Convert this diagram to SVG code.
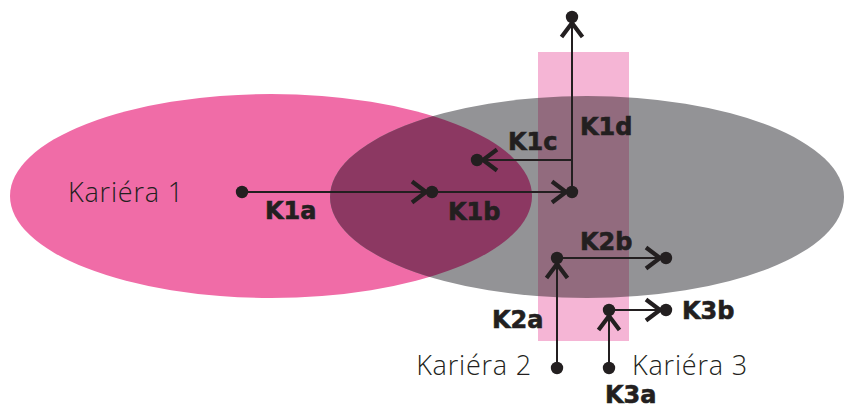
<svg xmlns="http://www.w3.org/2000/svg" width="845" height="408" viewBox="0 0 845 408">
<style>
.lbl{font-family:"DejaVu Sans","Liberation Sans",sans-serif;font-weight:bold;font-size:24px;fill:#231F20;stroke:#231F20;stroke-width:0.6}
.car{font-family:"Open Sans","Liberation Sans",sans-serif;font-weight:300;font-size:27px;letter-spacing:0.8px;fill:#231F20}
.con{fill:none;stroke:#231F20;stroke-width:2;marker-end:url(#chev)}
.dot{fill:#231F20}
</style>
<defs>
<marker id="chev" markerUnits="userSpaceOnUse" markerWidth="30" markerHeight="30" refX="26" refY="15" orient="auto">
<path d="M6,4.5 L20,15 L6,25.5" fill="none" stroke="#231F20" stroke-width="4.2" stroke-linejoin="miter"/>
</marker>
<clipPath id="clipGray"><ellipse cx="587" cy="197" rx="257" ry="101"/></clipPath>
</defs>
<g id="areas">
<ellipse id="career1-area" cx="271" cy="196" rx="261" ry="102" fill="#F06CA7"/>
<ellipse id="career-other-area" cx="587" cy="197" rx="257" ry="101" fill="#939396"/>
<ellipse cx="271" cy="196" rx="261" ry="102" fill="#8C3862" clip-path="url(#clipGray)"/>
<rect id="band" x="538" y="52" width="91" height="289" fill="#F5B5D5"/>
<rect x="538" y="52" width="91" height="289" fill="#926B7E" clip-path="url(#clipGray)"/>
</g>
<g id="connectors">
<path id="K1a-edge" class="con" d="M242,192 H432"/>
<path id="K1b-edge" class="con" d="M432,192 H572"/>
<path id="K1d-edge" class="con" d="M572,192 V17"/>
<path id="K1c-edge" class="con" d="M572,160 H477"/>
<path id="K2a-edge" class="con" d="M557,368 V258"/>
<path id="K2b-edge" class="con" d="M557,258 H666"/>
<path id="K3a-edge" class="con" d="M609,368 V310"/>
<path id="K3b-edge" class="con" d="M609,310 H666"/>
</g>
<g id="n-k1-start"><circle class="dot" cx="242" cy="192" r="6.2"/><text class="car" x="68" y="202">Kariéra 1</text></g>
<g id="n-k1a"><circle class="dot" cx="432" cy="192" r="6.2"/><text class="lbl" x="265" y="219">K1a</text></g>
<g id="n-k1b"><circle class="dot" cx="572" cy="192" r="6.2"/><text class="lbl" x="448" y="220">K1b</text></g>
<g id="n-k1d"><circle class="dot" cx="572" cy="17" r="6.2"/><text class="lbl" x="580" y="135">K1d</text></g>
<g id="n-k1c"><circle class="dot" cx="477" cy="160" r="6.2"/><text class="lbl" x="508" y="150">K1c</text></g>
<g id="n-k2-start"><circle class="dot" cx="557" cy="368" r="6.2"/><text class="car" x="532" y="375" text-anchor="end">Kariéra 2</text></g>
<g id="n-k2a"><circle class="dot" cx="557" cy="258" r="6.2"/><text class="lbl" x="492" y="328">K2a</text></g>
<g id="n-k2b"><circle class="dot" cx="666" cy="258" r="6.2"/><text class="lbl" x="580" y="250">K2b</text></g>
<g id="n-k3-start"><circle class="dot" cx="609" cy="368" r="6.2"/><text class="car" x="632" y="375">Kariéra 3</text><text class="lbl" x="605" y="403">K3a</text></g>
<g id="n-k3a"><circle class="dot" cx="609" cy="310" r="6.2"/></g>
<g id="n-k3b"><circle class="dot" cx="666" cy="310" r="6.2"/><text class="lbl" x="682" y="319">K3b</text></g>
</svg>
